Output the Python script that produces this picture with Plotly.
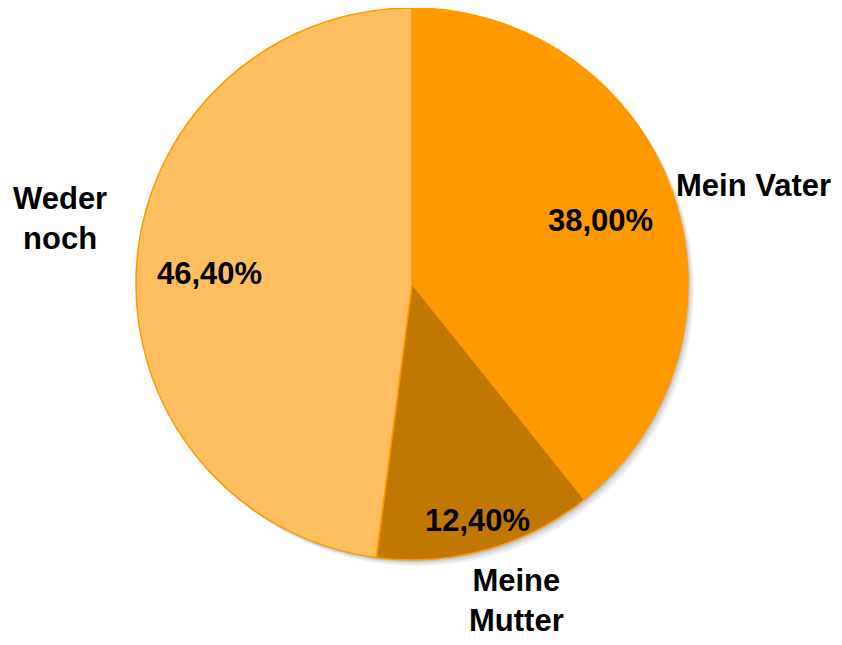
import plotly.graph_objects as go

labels = ["Mein Vater", "Meine Mutter", "Weder noch"]
label_text = ["Mein Vater", "Meine<br>Mutter", "Weder<br>noch"]
values = [38.00, 12.40, 46.40]
colors = ["#FF9900", "#C07800", "#FFBF60"]

OFF = 8  # page body margin
W, H = 842 - 2 * OFF, 645 - 2 * OFF
cx, cy, r = 412 - OFF, 284 - OFF, 276

def px(x, y):
    return (x - OFF) / W, 1 - (y - OFF) / H

pct_text = [f"{v:.2f}%".replace(".", ",") for v in values]

fig = go.Figure()

# soft shadow layers
for off, op in [(6, 0.06), (4, 0.08), (2, 0.10)]:
    fig.add_trace(go.Pie(
        values=values, sort=False, direction="clockwise", rotation=0,
        marker=dict(colors=[f"rgba(0,0,0,{op})"] * 3, line=dict(width=0)),
        textinfo="none", hoverinfo="skip", showlegend=False,
        domain=dict(x=[(cx - r + off) / W, (cx + r + off) / W],
                    y=[(H - (cy + r + off)) / H, (H - (cy - r + off)) / H]),
    ))

fig.add_trace(go.Pie(
    labels=labels, values=values, sort=False, direction="clockwise", rotation=0,
    marker=dict(colors=colors, line=dict(color="#FF9900", width=1.5)),
    textinfo="none", showlegend=False,
    domain=dict(x=[(cx - r) / W, (cx + r) / W],
                y=[(H - (cy + r)) / H, (H - (cy - r)) / H]),
))

font = dict(family="Liberation Sans, Arial, sans-serif", size=31, color="black")
lab_font = dict(family="Liberation Sans, Arial, sans-serif", size=30, color="black")
pct_pos = [(600, 221), (477, 520), (209, 273)]
lab_pos = [(753, 186), (516, 600), (60, 219)]
ann = []

def add(t, x, y, f):
    ax, ay = px(x, y)
    ann.append(dict(x=ax, y=ay, xref="paper", yref="paper", text=f"<b>{t}</b>",
                    showarrow=False, font=f, xanchor="center", yanchor="middle"))

for t, (x, y) in zip(pct_text, pct_pos):
    add(t, x, y, font)
for t, (x, y) in zip(label_text, lab_pos):
    add(t, x, y, font)

fig.update_layout(width=W, height=H, margin=dict(l=0, r=0, t=0, b=0),
                  paper_bgcolor="white", plot_bgcolor="white", annotations=ann)
fig.write_html("out.html")
